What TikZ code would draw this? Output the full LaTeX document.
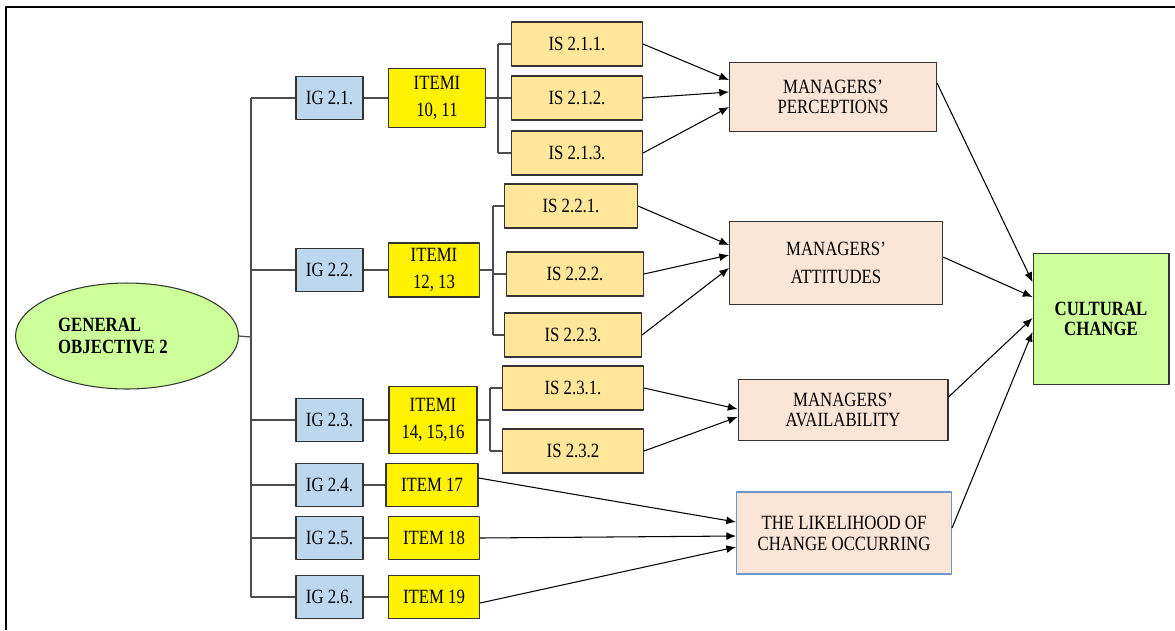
\documentclass[tikz,border=0pt]{standalone}
\usepackage{fontspec}
\setmainfont[FakeStretch=0.83]{Liberation Serif}
\usetikzlibrary{shapes.geometric,arrows.meta}
\definecolor{igblue}{RGB}{189,215,238}
\definecolor{isfill}{RGB}{255,230,153}
\definecolor{mgfill}{RGB}{251,229,214}
\definecolor{cgreen}{RGB}{204,255,153}
\definecolor{lkblue}{RGB}{110,150,200}
\begin{document}
\begin{tikzpicture}[x=0.02cm, y=-0.02cm, >={Latex[length=5.5pt,width=4.5pt]}, font=\fontsize{11.5}{11}\selectfont, line join=round,
	box/.style={draw=black!80, line width=0.6pt, inner sep=1pt, align=center},
	ig/.style={box, fill=igblue, minimum width=1.34cm, minimum height=0.86cm},
	item/.style={box, fill=yellow, minimum width=1.82cm, minimum height=0.86cm},
	is/.style={box, fill=isfill, minimum width=2.62cm, minimum height=0.88cm},
	mg/.style={box, fill=mgfill, minimum width=4.2cm, minimum height=1.3cm},
	tree/.style={draw=black!70, line width=0.7pt},
	arr/.style={->, line width=0.6pt}]
	\useasboundingbox (0,0) rectangle (1175,630);
	\draw[line width=0.7pt] (6,630) -- (6,7) -- (1175,7);
	% Muc tieu chung
	\node[ellipse, draw=black!80, line width=0.6pt, fill=cgreen, minimum width=4.46cm, minimum height=2.12cm, align=left, font=\fontsize{11.5}{11}\selectfont\bfseries] (go) at (127,336) {GENERAL\\[2pt]OBJECTIVE 2\hspace*{16pt}};
	\coordinate (t) at (251,337);
	\foreach \i/\y in {1/98,2/270,3/420,4/485,5/538,6/597}
	\node[ig] (ig\i) at (329.5,\y) {IG 2.\i.};
	\node[item, minimum width=1.94cm, minimum height=1.18cm] (it1) at (437,98) {ITEMI\\[4.5pt]10, 11};
	\node[item, minimum height=1.08cm] (it2) at (434,270) {ITEMI\\[4.5pt]12, 13};
	\node[item, minimum width=1.76cm, minimum height=1.34cm] (it3) at (433,420) {ITEMI\\[4.5pt]14, 15,16};
	\node[item, minimum width=1.84cm] (it4) at (432,485) {ITEM 17};
	\node[item] (it5) at (434,538) {ITEM 18};
	\node[item] (it6) at (434,597) {ITEM 19};
	\foreach \j/\y in {1/44,2/98,3/153}
	\node[is] (is1\j) at (577,\y) {IS 2.1.\j.};
	\node[is, minimum width=2.66cm] (is21) at (571,206) {IS 2.2.1.};
	\node[is, minimum width=2.74cm] (is22) at (575,274) {IS 2.2.2.};
	\node[is, minimum width=2.74cm] (is23) at (573,335) {IS 2.2.3.};
	\node[is, minimum width=2.82cm] (is31) at (573,388) {IS 2.3.1.};
	\node[is, minimum width=2.82cm] (is32) at (573,451) {IS 2.3.2};
	\node[mg, minimum width=4.14cm, minimum height=1.38cm] (pc) at (833,97) {MANAGERS'\\PERCEPTIONS};
	\node[mg, minimum width=4.26cm, minimum height=1.66cm] (att) at (836,263) {MANAGERS'\\[5pt]ATTITUDES};
	\node[mg, minimum height=1.22cm] (av) at (843,410) {MANAGERS'\\AVAILABILITY};
	\node[mg, draw=lkblue, minimum width=4.3cm, minimum height=1.64cm] (lk) at (844,533) {THE LIKELIHOOD OF\\[1pt]CHANGE OCCURRING};
	\node[box, fill=cgreen, minimum width=2.72cm, minimum height=2.62cm, font=\fontsize{11.5}{11}\selectfont\bfseries] (cc) at (1101,319) {CULTURAL\\CHANGE};
	% Cay
	\draw[tree] (go.east) -- (t);
	\draw[tree] (t |- ig1) -- (t |- ig6);
	\foreach \i in {1,...,6}
	\draw[tree] (t |- ig\i) -- (ig\i.west) (ig\i) -- (it\i);
	\coordinate (b1) at (498,98);
	\coordinate (b2) at (493,270);
	\coordinate (b3) at (490,420);
	\draw[tree] (it1.east) -- (b1) (b1 |- is11) -- (b1 |- is13);
	\draw[tree] (it2.east) -- (b2) (b2 |- is21) -- (b2 |- is23);
	\draw[tree] (it3.east) -- (b3) (b3 |- is31) -- (b3 |- is32);
	\foreach \j in {1,2,3}
	\draw[tree] (b1 |- is1\j) -- (is1\j.west) (b2 |- is2\j) -- (is2\j.west);
	\foreach \j in {1,2}
	\draw[tree] (b3 |- is3\j) -- (is3\j.west);
	% Mui ten
	\draw[arr] (is11.east) -- ([yshift=0.34cm]pc.west);
	\draw[arr] (is12.east) -- ([yshift=0.10cm]pc.west);
	\draw[arr] (is13.east) -- ([yshift=-0.20cm]pc.west);
	\draw[arr] (is21.east) -- ([yshift=0.36cm]att.west);
	\draw[arr] (is22.east) -- ([yshift=0.16cm]att.west);
	\draw[arr] (is23.east) -- ([yshift=-0.10cm]att.west);
	\draw[arr] (is31.east) -- ([yshift=0.02cm]av.west);
	\draw[arr] (is32.east) -- ([yshift=-0.14cm]av.west);
	\draw[arr] ([yshift=0.14cm]it4.east) -- ([yshift=0.22cm]lk.west);
	\draw[arr] (it5.east) -- ([yshift=-0.06cm]lk.west);
	\draw[arr] ([yshift=-0.12cm]it6.east) -- ([yshift=-0.28cm]lk.west);
	\draw[arr] ([yshift=0.28cm]pc.east) -- ([yshift=0.74cm]cc.west);
	\draw[arr] ([yshift=0.12cm]att.east) -- ([yshift=0.44cm]cc.west);
	\draw[arr] ([yshift=0.26cm]av.east) -- ([yshift=0.02cm]cc.west);
	\draw[arr] ([yshift=0.10cm]lk.east) -- ([yshift=-0.26cm]cc.west);
\end{tikzpicture}
\end{document}
